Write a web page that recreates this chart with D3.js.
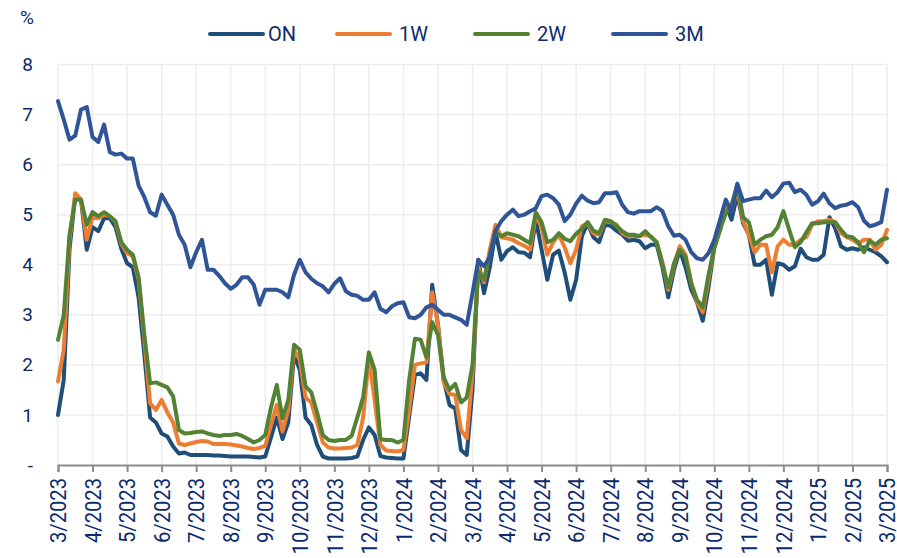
<!DOCTYPE html>
<html>
<head>
<meta charset="utf-8">
<script src="https://cdn.jsdelivr.net/npm/d3@7"></script>
<style>
  body { margin: 0; background: #fff; }
  svg text { font-family: Roboto, "Open Sans", sans-serif; fill: #0d2b6b; }
</style>
</head>
<body>
<div id="chart"></div>
<script>
// month labels, one every 6 samples
var monthLabels = ["3/2023","4/2023","5/2023","6/2023","7/2023","8/2023","9/2023","10/2023","11/2023","12/2023",
  "1/2024","2/2024","3/2024","4/2024","5/2024","6/2024","7/2024","8/2024","9/2024","10/2024","11/2024","12/2024",
  "1/2025","2/2025","3/2025"];
var yTicks = [0, 1, 2, 3, 4, 5, 6, 7, 8];
var seriesNames = ["ON", "1W", "2W", "3M"];

// rates in %, roughly every 5 days from 3/2023 to 3/2025
var rateON = [1.0,1.7,4.3,5.4,5.3,4.3,4.75,4.67,4.93,4.93,4.75,4.32,4.03,3.95,3.35,2.2,0.95,0.85,0.63,0.57,
  0.37,0.23,0.25,0.2,0.2,0.2,0.2,0.19,0.19,0.18,0.17,0.17,0.17,0.17,0.16,0.15,0.17,0.55,0.95,0.52,
  0.85,2.2,1.9,0.95,0.8,0.4,0.17,0.13,0.13,0.13,0.13,0.14,0.17,0.5,0.75,0.6,0.18,0.15,0.14,0.13,
  0.13,0.97,1.8,1.83,1.7,3.6,2.8,1.7,1.2,1.13,0.3,0.2,1.5,4.1,3.43,3.95,4.65,4.1,4.27,4.35,
  4.25,4.24,4.15,4.9,4.3,3.7,4.2,4.28,3.85,3.3,3.7,4.57,4.83,4.55,4.45,4.8,4.78,4.68,4.6,4.48,
  4.5,4.47,4.33,4.4,4.4,3.95,3.35,3.9,4.3,3.95,3.5,3.25,2.88,3.55,4.35,4.7,5.2,4.9,5.4,4.83,
  4.6,4.0,4.0,4.1,3.4,4.03,4.0,3.9,3.97,4.32,4.15,4.1,4.1,4.2,4.95,4.73,4.37,4.3,4.33,4.3,
  4.35,4.3,4.25,4.17,4.05];
var rate1W = [1.67,2.3,4.5,5.43,5.3,4.5,4.95,4.93,5.0,4.97,4.85,4.42,4.23,4.17,3.7,2.5,1.23,1.1,1.3,1.05,
  0.85,0.43,0.4,0.43,0.46,0.48,0.47,0.42,0.42,0.42,0.41,0.39,0.37,0.34,0.32,0.34,0.38,0.8,1.2,0.67,
  1.1,2.3,2.1,1.35,1.25,0.85,0.45,0.35,0.33,0.33,0.34,0.35,0.4,0.95,2.15,1.3,0.4,0.29,0.28,0.27,
  0.3,1.1,2.0,2.03,2.05,3.45,2.8,1.65,1.42,1.4,0.7,0.53,1.83,3.95,3.65,4.3,4.8,4.55,4.53,4.5,
  4.43,4.38,4.3,5.0,4.75,4.2,4.45,4.6,4.35,4.03,4.3,4.77,4.83,4.63,4.6,4.88,4.85,4.8,4.63,4.57,
  4.57,4.58,4.6,4.57,4.45,4.05,3.5,4.0,4.37,4.2,3.65,3.25,3.05,3.7,4.37,4.7,5.23,5.1,5.5,4.88,
  4.6,4.25,4.4,4.4,3.85,4.37,4.5,4.4,4.4,4.5,4.55,4.8,4.87,4.87,4.9,4.85,4.63,4.55,4.5,4.42,
  4.5,4.5,4.3,4.4,4.7];
var rate2W = [2.5,3.0,4.6,5.3,5.3,4.8,5.05,4.97,5.05,4.97,4.87,4.45,4.3,4.2,3.75,2.6,1.63,1.65,1.6,1.55,
  1.37,0.7,0.63,0.64,0.66,0.67,0.63,0.6,0.58,0.6,0.6,0.62,0.58,0.52,0.45,0.5,0.6,1.15,1.6,0.93,
  1.3,2.4,2.3,1.57,1.45,1.05,0.6,0.5,0.48,0.5,0.5,0.58,0.95,1.35,2.25,1.9,0.52,0.5,0.5,0.45,
  0.5,1.7,2.52,2.5,2.15,2.85,2.6,1.75,1.5,1.62,1.25,1.35,2.0,3.88,3.7,4.2,4.65,4.57,4.63,4.6,
  4.57,4.5,4.43,5.05,4.85,4.45,4.5,4.63,4.52,4.47,4.62,4.72,4.85,4.68,4.63,4.9,4.87,4.78,4.67,4.6,
  4.6,4.57,4.67,4.55,4.45,4.0,3.55,4.03,4.3,4.15,3.62,3.3,3.15,3.8,4.33,4.7,5.03,5.2,5.6,4.95,
  4.85,4.4,4.5,4.57,4.6,4.75,5.07,4.7,4.35,4.45,4.65,4.83,4.83,4.85,4.85,4.85,4.7,4.57,4.55,4.45,
  4.25,4.48,4.4,4.5,4.53];
var rate3M = [7.27,6.9,6.5,6.58,7.1,7.15,6.55,6.45,6.8,6.25,6.2,6.22,6.12,6.12,5.58,5.35,5.05,4.98,5.4,5.2,
  5.0,4.6,4.4,3.95,4.25,4.5,3.9,3.9,3.78,3.63,3.52,3.6,3.75,3.75,3.6,3.2,3.5,3.5,3.5,3.45,
  3.35,3.8,4.1,3.85,3.72,3.63,3.57,3.45,3.62,3.73,3.47,3.4,3.38,3.3,3.3,3.45,3.12,3.05,3.17,3.23,
  3.25,2.95,2.93,3.0,3.15,3.2,3.1,3.0,3.0,2.95,2.9,2.8,3.43,4.1,3.97,4.15,4.68,4.87,5.0,5.1,
  4.97,5.0,5.07,5.13,5.37,5.4,5.33,5.2,4.87,5.0,5.22,5.38,5.28,5.23,5.25,5.43,5.43,5.45,5.2,5.05,
  5.02,5.07,5.07,5.07,5.15,5.07,4.77,4.58,4.6,4.5,4.25,4.13,4.1,4.23,4.5,4.9,5.3,5.05,5.62,5.27,
  5.3,5.33,5.33,5.48,5.35,5.45,5.62,5.64,5.45,5.5,5.4,5.2,5.27,5.42,5.23,5.13,5.18,5.2,5.25,5.15,
  4.88,4.77,4.8,4.85,5.5];

var colors = ["#1f4e79", "#ed7d31", "#548235", "#2f5597"];
var allSeries = [rateON, rate1W, rate2W, rate3M];

var width = 897, height = 558,
    margin = {top: 64.5, right: 10, bottom: 93, left: 58},
    plotW = 887 - margin.left,
    plotH = height - margin.bottom - margin.top;

var svg = d3.select("#chart").append("svg")
  .attr("width", width)
  .attr("height", height);

var g = svg.append("g")
  .attr("transform", "translate(" + margin.left + "," + margin.top + ")");

var samplesPerMonth = (rateON.length - 1) / (monthLabels.length - 1);
var xScale = d3.scaleLinear().domain([0, rateON.length - 1]).range([0, plotW]);
var yScale = d3.scaleLinear().domain([0, 8]).range([plotH, 0]);

// grid
g.append("g").selectAll("line.h")
  .data(yTicks.filter(function(d) { return d > 0; }))
  .enter().append("line")
  .attr("x1", 0).attr("x2", plotW)
  .attr("y1", function(d) { return yScale(d); })
  .attr("y2", function(d) { return yScale(d); })
  .attr("stroke", "#ededed").attr("stroke-width", 1.5);

g.append("g").selectAll("line.v")
  .data(monthLabels)
  .enter().append("line")
  .attr("x1", function(d, i) { return xScale(i * samplesPerMonth); })
  .attr("x2", function(d, i) { return xScale(i * samplesPerMonth); })
  .attr("y1", 0).attr("y2", plotH)
  .attr("stroke", "#ededed").attr("stroke-width", 1.5);

// y axis labels
var yAxis = d3.axisLeft(yScale)
  .tickValues(yTicks)
  .tickSize(0)
  .tickPadding(25)
  .tickFormat(function(d) { return d === 0 ? "-" : d; });
var yg = g.append("g").call(yAxis);
yg.select(".domain").remove();
yg.selectAll("text").style("font-size", "19px").attr("fill", "#0d2b6b");

svg.append("text")
  .attr("x", 20).attr("y", 24)
  .style("font-size", "19px")
  .text("%");

// x axis
var xAxis = d3.axisBottom(xScale)
  .tickValues(monthLabels.map(function(d, i) { return i * samplesPerMonth; }))
  .tickSize(7)
  .tickFormat(function(d, i) { return monthLabels[i]; });
var xg = g.append("g")
  .attr("transform", "translate(0," + plotH + ")")
  .call(xAxis);
xg.select(".domain").attr("stroke", "#8c8c8c").attr("stroke-width", 2);
xg.selectAll(".tick line").attr("stroke", "#8c8c8c").attr("stroke-width", 2);
xg.selectAll("text")
  .style("font-size", "22px")
  .attr("fill", "#0d2b6b")
  .attr("text-anchor", "end")
  .attr("dy", "0.35em")
  .attr("transform", "rotate(-90) scale(0.92,1) translate(-14,0)")
  .attr("x", 0).attr("y", 0);

// lines
var line = d3.line()
  .x(function(d, i) { return xScale(i); })
  .y(function(d) { return yScale(d); });

g.selectAll(".series")
  .data(allSeries)
  .enter().append("path")
  .attr("class", "series")
  .attr("d", line)
  .attr("fill", "none")
  .attr("stroke", function(d, i) { return colors[i]; })
  .attr("stroke-width", 4)
  .attr("stroke-linejoin", "round")
  .attr("stroke-linecap", "round");

// legend
var legendX = [210, 337, 475, 613];
var legend = svg.selectAll(".legend")
  .data(seriesNames)
  .enter().append("g")
  .attr("transform", function(d, i) { return "translate(" + legendX[i] + ",34)"; });
legend.append("line")
  .attr("x1", 0).attr("x2", 53)
  .attr("stroke", function(d, i) { return colors[i]; })
  .attr("stroke-width", 4)
  .attr("stroke-linecap", "round");
legend.append("text")
  .attr("x", function(d) { return d === "ON" ? 58 : 62; })
  .attr("y", 7)
  .style("font-size", "20px")
  .text(function(d) { return d; });
</script>
</body>
</html>
